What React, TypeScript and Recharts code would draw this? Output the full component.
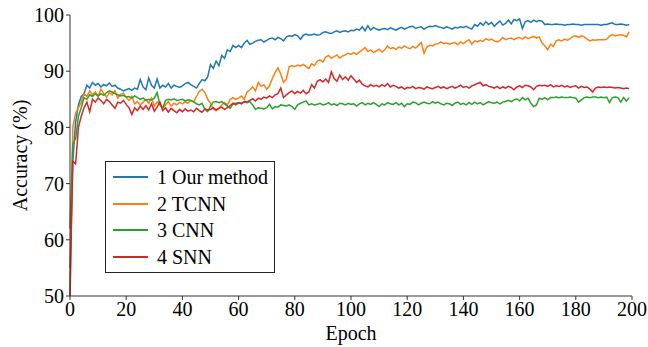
import React from 'react';
import { LineChart, Line, XAxis, YAxis, Legend } from 'recharts';

const epochs: number[] = Array.from({ length: 200 }, (_, i) => i);

const ourMethod: number[] = [
  55, 74, 81, 84, 85.5, 86, 87.5, 87, 88, 87.5,
  87.8, 87.2, 87.6, 87.4, 87.9, 87.3, 87.5, 87.0, 86.8, 86.5,
  86.7, 86.9, 86.6, 87.0, 86.8, 88.5, 87.2, 86.7, 88.8, 87.5,
  87.0, 88.6, 87.0, 87.5, 87.2, 87.8, 87.0, 87.5, 87.3, 87.1,
  87.4, 87.8, 88.0, 87.6, 87.3, 87.0, 87.8, 88.5, 88.3, 89.0,
  91.2, 90.5, 91.8, 91.0, 92.8, 92.3, 93.8, 93.5, 94.6, 94.2,
  94.6, 94.2, 95.0, 95.5, 94.8, 95.0, 95.3, 95.5, 95.6, 95.2,
  95.5, 95.8, 95.9, 95.6, 96.0, 95.8, 95.4, 96.1, 96.3, 96.2,
  96.5, 96.3, 95.7, 96.4, 96.6, 96.4, 96.5, 96.6, 96.4, 96.5,
  96.9, 97.0, 96.8, 96.7, 97.0, 97.2, 96.9, 97.1, 97.2, 97.0,
  97.3, 97.2, 97.5, 97.3, 97.9, 97.2, 98.1, 97.3, 97.8, 97.5,
  97.3, 97.5, 97.6, 97.4, 97.7, 97.5, 97.3, 97.6, 97.8, 97.5,
  97.7, 97.9, 98.0, 97.6, 97.8, 97.9, 97.5, 97.8, 98.0, 97.9,
  98.1, 97.9, 97.8, 97.6, 97.9, 97.7, 97.5, 97.8, 97.7, 97.9,
  97.8, 98.0, 97.7, 97.5, 98.3, 98.0, 98.6, 98.2, 98.8, 98.3,
  98.7, 98.0, 98.5, 98.9, 98.2, 98.5, 99.1, 98.4, 99.2, 99.0,
  99.3, 97.6, 98.8, 99.0, 98.7, 99.1, 98.8, 99.0, 98.9, 98.3,
  98.4, 98.3, 98.3, 98.4, 98.3, 98.3, 98.2, 98.3, 98.3, 98.4,
  98.3, 98.3, 98.2, 98.3, 98.3, 98.3, 98.3, 98.3, 98.3, 98.2,
  98.3, 98.3, 98.5, 98.6, 98.3, 98.3, 98.4, 98.3, 98.2, 98.3,
];

const tcnn: number[] = [
  50, 80, 82.5, 83.5, 84.5, 86, 85.5, 86.5, 85.8, 86.3,
  85.5, 86.8, 86, 85.4, 86.2, 85.8, 86.5, 85.2, 85.9, 86.1,
  85.3, 84.8, 85.5, 84.2, 84.6, 84.0, 84.5, 85.0, 84.3, 85.2,
  83.8, 84.5, 84.2, 83.5, 84.0, 84.6, 83.8, 84.3, 84.0, 84.5,
  84.2, 84.6, 84.3, 84.8, 84.5, 85.5, 86.4, 86.8, 86.2, 85.0,
  84.3, 83.3, 83.0, 83.4, 84.0, 84.4, 84.0, 85.0, 85.3, 85.0,
  85.2, 85.6, 85.0, 86.3, 86.7, 87.2, 86.5, 88.0, 87.3, 87.6,
  86.8, 87.4, 88.7, 89.8, 90.6, 89.5, 88.0, 88.6, 90.8, 91.0,
  90.8, 91.1, 90.9, 91.2, 90.8, 90.5, 91.3, 91.0, 91.8, 92.0,
  91.6, 92.5, 92.8, 92.3, 92.6, 92.9, 92.3, 92.7, 92.9, 93.2,
  93.0, 93.3, 93.0, 93.4, 93.8, 94.2, 93.5, 93.8, 93.3, 93.6,
  93.9, 93.4, 93.8, 94.5, 94.0, 94.2, 93.9, 94.3, 94.1, 94.5,
  94.2, 94.0, 94.4, 94.1, 94.6, 95.1, 93.2, 94.3, 94.6, 94.5,
  94.8, 94.9, 95.2, 94.9, 95.0, 94.8, 95.0, 95.1, 94.7, 95.2,
  94.9, 95.3, 95.6, 94.8, 95.4, 95.2, 95.5, 95.3, 95.8, 95.5,
  95.7, 95.4, 95.2, 95.5, 96.0, 95.6, 95.8, 95.9, 95.6, 95.9,
  96.0, 95.7, 96.1, 95.8, 96.0, 96.2, 95.9, 96.1, 95.0, 94.5,
  93.8, 94.8, 94.4, 95.4, 95.6, 95.4, 95.7, 95.5, 95.8, 96.2,
  96.3, 96.0, 96.3, 96.1, 95.7, 95.4, 95.6, 95.5, 95.6, 95.6,
  95.6, 95.7, 96.2, 96.5, 96.3, 96.4, 96.5, 96.4, 96.1, 97.0,
];

const cnn: number[] = [
  62, 77, 78, 82, 83.5, 85.3, 85.0, 85.8, 85.5, 86.0,
  85.6, 86.0, 85.7, 86.2, 86.5, 86.3, 86.0, 85.8, 85.6, 85.7,
  85.4, 85.5, 85.2, 85.6, 85.3, 85.0, 85.2, 84.8, 85.0, 84.9,
  85.2, 86.2, 84.0, 83.4, 84.8, 85.0, 84.9, 85.1, 84.8, 84.9,
  85.0, 84.7, 84.9, 84.8, 84.6, 84.2, 84.0, 84.3, 83.2, 82.8,
  83.8, 84.5, 84.6, 84.4, 84.6, 84.2, 83.8, 83.4, 84.2, 84.3,
  84.4, 84.3, 84.5, 84.4, 84.6, 84.0, 83.2, 83.5, 83.4, 83.3,
  83.5, 84.1, 83.3, 83.7, 83.6, 84.0, 83.9, 83.8, 84.0, 83.7,
  83.2, 84.0, 84.3, 84.5, 84.7, 84.0, 84.2, 84.0, 84.1, 84.3,
  84.0, 84.1, 84.4, 84.0, 84.2, 83.9, 84.3, 84.2, 84.0, 84.3,
  84.1, 84.2, 83.8, 84.2, 84.4, 84.0, 84.3, 84.1, 84.4, 84.1,
  83.7, 84.2, 84.0, 84.4, 84.2, 84.1, 84.4, 84.0, 84.3, 83.7,
  84.2, 84.1, 84.5, 84.4, 84.0, 84.3, 84.5, 84.3, 84.2, 84.6,
  84.3, 84.5, 84.2, 84.0, 84.3, 84.2, 83.9, 84.3, 84.5, 84.1,
  84.3, 84.0, 84.4, 84.1, 84.5, 84.2, 84.4, 84.0, 84.3, 84.6,
  84.4, 84.3, 84.5, 84.2, 84.5, 84.6, 84.8, 84.6, 84.9, 85.1,
  84.7, 85.3, 84.9, 85.2, 84.3, 83.7, 84.0, 85.2, 85.0, 85.3,
  84.9, 85.3, 85.3, 85.4, 85.3, 85.4, 85.3, 85.3, 85.4, 85.3,
  85.2, 84.5, 84.9, 85.3, 85.4, 85.3, 85.4, 85.4, 85.3, 85.4,
  85.3, 85.4, 84.4, 85.3, 85.4, 85.3, 84.5, 85.3, 84.7, 85.3,
];

const snn: number[] = [
  50, 74, 73.5, 80, 82, 83.5, 84.5, 82.8, 85.0, 84.5,
  85.2, 84.8, 84.2, 85.0, 84.6, 84.0, 83.4, 84.5, 84.3, 84.8,
  84.1, 83.5, 82.3, 83.5, 83.0, 83.8, 83.2, 83.9, 83.1, 84.2,
  82.9, 83.6, 84.5, 83.0, 83.5, 82.7, 83.4, 83.0, 82.6, 83.2,
  82.8, 83.3, 82.9, 83.1, 82.8, 83.4, 83.0, 82.7, 83.3, 83.1,
  83.2, 83.5, 83.1, 83.4, 83.6, 83.2, 83.5, 83.9, 84.3, 84.0,
  84.4, 84.2, 84.6, 84.5, 84.8, 85.1, 84.7, 85.2, 85.0, 85.4,
  85.2, 85.6, 85.3, 85.8, 86.0, 87.0, 85.3, 85.8, 86.2, 86.5,
  86.0, 86.4, 86.1, 86.6, 86.0, 86.3, 87.6, 87.0, 88.2, 88.5,
  88.1, 88.6, 88.0, 89.9, 88.7, 88.2, 89.3, 88.5, 89.0, 88.4,
  89.2, 88.6, 88.0, 88.4, 87.7, 87.4, 87.2, 87.6, 87.3, 87.5,
  87.2, 87.6, 87.3, 87.8, 87.2, 87.5, 87.3, 87.0, 87.2, 86.8,
  87.1, 87.0, 87.3, 86.9, 87.1, 87.0, 86.8, 87.2, 87.0, 86.9,
  87.1, 87.3, 87.0, 87.2, 86.9, 87.1, 87.3, 87.0, 87.2, 87.5,
  87.1, 87.3, 87.0, 87.4, 87.6, 87.8, 88.0, 87.4, 87.6, 87.3,
  87.2, 87.0, 87.3, 86.9, 87.2, 87.0, 87.3, 87.1, 86.7, 87.2,
  87.4, 87.1, 87.5, 87.4, 87.2, 86.7, 87.3, 87.5, 87.4, 87.5,
  87.3, 87.6, 87.2, 87.4, 87.3, 87.5, 87.2, 87.4, 87.1, 87.3,
  87.4, 87.0, 87.3, 87.1, 87.2, 86.8, 86.3, 87.0, 87.2, 87.1,
  87.2, 87.1, 87.2, 87.1, 87.0, 87.1, 87.0, 86.9, 87.0, 86.9,
];

const seriesNames: string[] = ['1 Our method', '2 TCNN', '3 CNN', '4 SNN'];
const seriesKeys: string[] = ['ours', 'tcnn', 'cnn', 'snn'];
const seriesColors: string[] = ['#1f77b4', '#ff7f0e', '#2ca02c', '#d62728'];
const xTicks: number[] = [0, 20, 40, 60, 80, 100, 120, 140, 160, 180, 200];
const yTicks: number[] = [50, 60, 70, 80, 90, 100];

const data = epochs.map((e, i) => ({
  epoch: e,
  ours: ourMethod[i],
  tcnn: tcnn[i],
  cnn: cnn[i],
  snn: snn[i],
}));

const FONT = '"Liberation Serif", "Times New Roman", serif';
const AXIS = '#333';

const LegendBox = () => (
  <div
    style={{
      border: '1.3px solid #222',
      background: '#fff',
      padding: '2px 0 2px 7px',
      fontFamily: FONT,
      fontSize: 20,
      color: '#000',
      width: 161,
      height: 106,
      whiteSpace: 'nowrap',
    }}
  >
    {seriesNames.map((n, i) => (
      <div key={n} style={{ display: 'flex', alignItems: 'center', height: 26.5 }}>
        <div style={{ width: 35, height: 2, background: seriesColors[i], marginRight: 9, flex: 'none' }} />
        <span style={{ lineHeight: '26px' }}>{n}</span>
      </div>
    ))}
  </div>
);

export default function App() {
  return (
    <div style={{ position: 'absolute', left: 0, top: 0, width: 648, height: 347, background: '#fff' }}>
      <LineChart width={648} height={347} data={data} margin={{ top: 15, right: 16, left: 0, bottom: 0 }}>
        <XAxis
          dataKey="epoch"
          type="number"
          domain={[0, 200]}
          ticks={xTicks}
          tickSize={4}
          tickMargin={2}
          stroke={AXIS}
          tick={{ fill: '#000', fontSize: 20, fontFamily: FONT }}
          height={51}
          label={{ value: 'Epoch', position: 'insideBottom', offset: 7, style: { fill: '#000', fontSize: 20, fontFamily: FONT } }}
        />
        <XAxis xAxisId="top" orientation="top" dataKey="epoch" type="number" domain={[0, 200]} tick={false} tickLine={false} stroke={AXIS} height={0} />
        <YAxis
          type="number"
          domain={[50, 100]}
          ticks={yTicks}
          tickSize={4}
          tickMargin={2}
          stroke={AXIS}
          tick={{ fill: '#000', fontSize: 20, fontFamily: FONT }}
          width={70}
          allowDataOverflow
          label={{ value: 'Accuracy (%)', angle: -90, position: 'insideLeft', offset: 20, style: { textAnchor: 'middle', fill: '#000', fontSize: 20, fontFamily: FONT } }}
        />
        <YAxis yAxisId="right" orientation="right" domain={[50, 100]} tick={false} tickLine={false} stroke={AXIS} width={0} />
        <Legend
          layout="vertical"
          verticalAlign="middle"
          align="center"
          wrapperStyle={{ left: 105, top: 161, width: 'auto', height: 'auto' }}
          content={() => <LegendBox />}
        />
        {seriesKeys.map((k, i) => (
          <Line
            key={k}
            dataKey={k}
            name={seriesNames[i]}
            stroke={seriesColors[i]}
            strokeWidth={1.5}
            dot={false}
            type="linear"
            isAnimationActive={false}
          />
        ))}
      </LineChart>
    </div>
  );
}
